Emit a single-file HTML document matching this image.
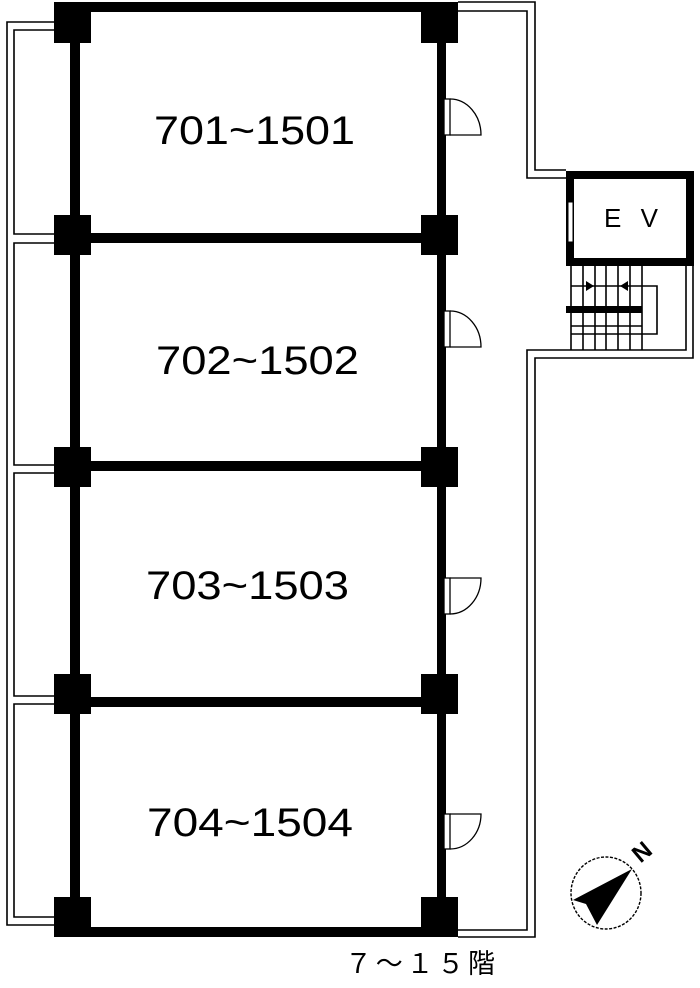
<!DOCTYPE html>
<html><head><meta charset="utf-8"><style>
html,body{margin:0;padding:0;background:#fff;}
svg{display:block;}
</style></head><body>
<svg width="700" height="988" viewBox="0 0 700 988" xmlns="http://www.w3.org/2000/svg">
<rect width="700" height="988" fill="#fff"/>
<g fill="none" stroke="#000" stroke-width="1.6">
<polyline points="54,22 7,22 7,925 54,925"/>
<polyline points="54,30 14,30 14,234 54,234"/>
<polyline points="54,243 14,243 14,465 54,465"/>
<polyline points="54,473 14,473 14,696 54,696"/>
<polyline points="54,704 14,704 14,917 54,917"/>
<polyline points="458,2 535,2 535,170 566,170"/>
<polyline points="458,11 527,11 527,178 566,178"/>
<polyline points="693,266 693,358 535,358 535,937 458,937"/>
<polyline points="686,266 686,350 527,350 527,930 458,930"/>
<line x1="571" y1="266" x2="571" y2="350"/>
<line x1="583" y1="266" x2="583" y2="350"/>
<line x1="595" y1="266" x2="595" y2="350"/>
<line x1="606" y1="266" x2="606" y2="350"/>
<line x1="618" y1="266" x2="618" y2="350"/>
<line x1="630" y1="266" x2="630" y2="350"/>
<line x1="642" y1="266" x2="642" y2="350"/>
<polyline points="571,286 657,286 657,334 571,334"/>
<line x1="571" y1="326" x2="642" y2="326"/>
<ellipse cx="606" cy="893" rx="35" ry="36" stroke-dasharray="3,1.5" stroke-width="1.4"/>
</g>
<g fill="#000">
<rect x="54" y="2" width="404" height="10"/>
<rect x="70" y="2" width="10" height="935"/>
<rect x="437" y="2" width="9" height="935"/>
<rect x="54" y="233" width="404" height="10"/>
<rect x="54" y="461" width="404" height="10"/>
<rect x="54" y="697" width="404" height="10"/>
<rect x="54" y="927" width="404" height="10"/>
<rect x="54" y="2" width="37" height="41"/>
<rect x="421" y="2" width="37" height="41"/>
<rect x="54" y="215" width="37" height="40"/>
<rect x="421" y="215" width="37" height="40"/>
<rect x="54" y="447" width="37" height="40"/>
<rect x="421" y="447" width="37" height="40"/>
<rect x="54" y="674" width="37" height="40"/>
<rect x="421" y="674" width="37" height="40"/>
<rect x="54" y="897" width="37" height="40"/>
<rect x="421" y="897" width="37" height="40"/>
<rect x="566" y="171" width="128" height="8"/>
<rect x="566" y="258" width="128" height="8"/>
<rect x="566" y="171" width="8" height="95"/>
<rect x="686" y="171" width="8" height="95"/>
<rect x="566" y="306" width="76" height="7"/>
<polygon points="594,286 586,281 586,291"/>
<polygon points="620,286 628,281 628,291"/>
<polygon points="632,869 573,900 586,904 597,925"/>
</g>
<rect x="568" y="202" width="5" height="40" fill="#fff" stroke="#000" stroke-width="1"/>
<g fill="#fff" stroke="#000" stroke-width="1.3">
<rect x="444" y="99" width="6" height="36"/>
<path d="M450,99 A31,36 0 0 1 481,135 L450,135" fill="none"/>
<rect x="444" y="311" width="6" height="36"/>
<path d="M450,311 A31,36 0 0 1 481,347 L450,347" fill="none"/>
<rect x="444" y="578" width="6" height="36"/>
<path d="M450,578 L481,578 A31,36 0 0 1 450,614" fill="none"/>
<rect x="444" y="814" width="6" height="35"/>
<path d="M450,814 L481,814 A31,35 0 0 1 450,849" fill="none"/>
</g>
<g font-family="'Liberation Sans','DejaVu Sans',sans-serif" font-size="40" fill="#000">
<text x="154" y="144" textLength="201" lengthAdjust="spacingAndGlyphs">701~1501</text>
<text x="156" y="374" textLength="203" lengthAdjust="spacingAndGlyphs">702~1502</text>
<text x="146" y="599" textLength="203" lengthAdjust="spacingAndGlyphs">703~1503</text>
<text x="147" y="836" textLength="206" lengthAdjust="spacingAndGlyphs">704~1504</text>
</g>
<text x="604" y="227" font-family="'Liberation Sans',sans-serif" font-size="26" textLength="54" lengthAdjust="spacing">E V</text>
<text x="642" y="860" font-family="'Liberation Sans',sans-serif" font-size="24" font-weight="bold" text-anchor="middle" transform="rotate(-40 642 852)">N</text>
<text x="345" y="973" font-family="'Liberation Sans','Noto Sans CJK JP',sans-serif" font-size="27" textLength="150" lengthAdjust="spacing">７～１５階</text>
</svg>
</body></html>
